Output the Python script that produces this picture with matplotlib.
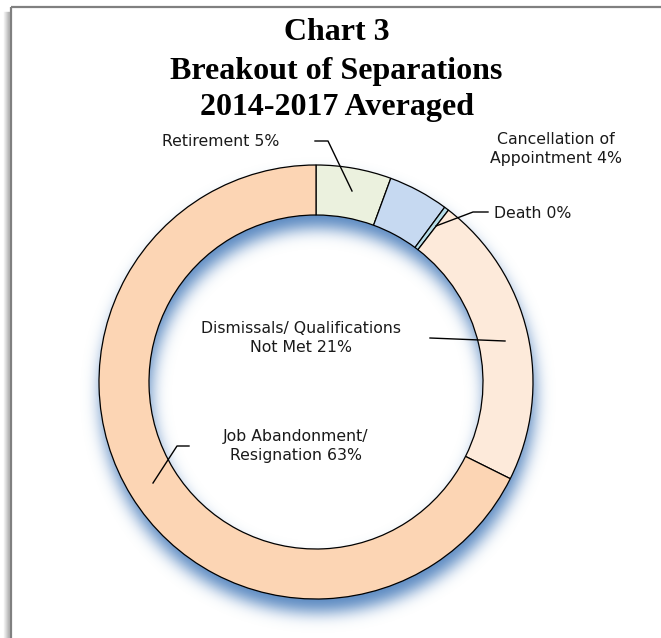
import math
import numpy as np
import matplotlib
matplotlib.use("Agg")
import matplotlib.pyplot as plt

# ---- data ----
categories = ["Retirement", "Cancellation of Appointment", "Death",
              "Dismissals/ Qualifications Not Met", "Job Abandonment/ Resignation"]
values = [5.6, 4.5, 0.35, 21.9, 67.65]
label_texts = ["Retirement 5%", "Cancellation of\nAppointment 4%", "Death 0%",
               "Dismissals/ Qualifications\nNot Met 21%", "Job Abandonment/\nResignation 63%"]
colors = ["#EBF1DE", "#C6D9F1", "#B7DDE8", "#FDEADA", "#FCD5B4"]
title_lines = ["Chart 3", "Breakout of Separations", "2014-2017 Averaged"]

W, H = 661, 638
fig = plt.figure(figsize=(W / 100, H / 100), dpi=100)
ax = fig.add_axes([0, 0, 1, 1])

cx, cy_pix = 316, 382
R, ring_w = 217, 50
cy = H - cy_pix

# soft blue shadow of the ring (offset downwards, blurred)
yy, xx = np.mgrid[0:H, 0:W] + 0.5
ox, oy, sig = 2.0, 13.0, 8.0
d = np.hypot(xx - (cx + ox), yy - (cy_pix + oy))
erf = np.vectorize(math.erf)
def Phi(z):
    return 0.5 * (1 + erf(z / math.sqrt(2)))
alpha = Phi((R - d) / sig) - Phi((R - ring_w - d) / sig)
img = np.zeros((H, W, 4))
img[..., 0] = 79 / 255
img[..., 1] = 129 / 255
img[..., 2] = 189 / 255
img[..., 3] = np.clip(0.95 * alpha, 0, 1)
ax.imshow(img, extent=(0, W, 0, H), origin="upper", zorder=1, interpolation="bilinear")

wedges, _ = ax.pie(values, colors=colors, startangle=90, counterclock=False,
                   center=(cx, cy), radius=R,
                   wedgeprops=dict(width=ring_w, edgecolor="black", linewidth=0.9))
for w in wedges:
    w.set_zorder(2)

ax.set_xlim(0, W)
ax.set_ylim(0, H)
ax.set_aspect("auto")
ax.axis("off")

def P(x, y):
    return (x, H - y)

# frame
ax.plot([11, 11], [H - 7, 0], color="#808080", lw=1.6, zorder=3, solid_capstyle="butt")
ax.plot([11, W], [H - 7, H - 7], color="#808080", lw=1.6, zorder=3, solid_capstyle="butt")
for i, a in enumerate([0.05, 0.08, 0.12, 0.16, 0.2, 0.25]):
    ax.plot([4 + i, 4 + i], [H - 12, 0], color="black", alpha=a, lw=1.0, zorder=2.5)

# title
title_font = dict(family="Liberation Serif", weight="bold", size=23, color="black")
for t, y in zip(title_lines, [33, 72, 107]):
    ax.text(*P(W / 2 + 6, y), t, ha="center", va="center", **title_font)

lab_font = dict(family="DejaVu Sans", size=11.3, color="#1a1a1a", linespacing=1.3)
label_pos = [(221, 141), (556, 149), (533, 213), (301, 338), (296, 446)]
for t, (x, y) in zip(label_texts, label_pos):
    ax.text(*P(x, y), t, ha="center", va="center", zorder=5, **lab_font)

# leader lines
leaders = [
    [(315, 141), (328, 141), (352, 191)],
    [(488, 212), (473, 212), (436, 226)],
    [(430, 338), (505, 341)],
    [(189, 446), (177, 446), (153, 483)],
]
for pts in leaders:
    xs = [p[0] for p in pts]
    ys = [H - p[1] for p in pts]
    ax.plot(xs, ys, color="black", lw=1.0, zorder=4)

fig.savefig("out.png", dpi=100)
